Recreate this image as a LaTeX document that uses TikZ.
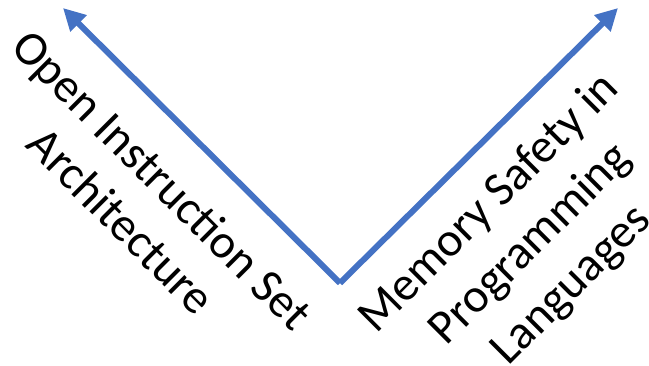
\documentclass[tikz,border=0pt]{standalone}
\usepackage{fontspec}
\setmainfont{Carlito}
\usetikzlibrary{arrows.meta}
\definecolor{axisblue}{HTML}{4472C4}
\tikzset{
  axis/.style={draw=axisblue, line width=6pt, -{Triangle[length=22pt,width=22pt]}},
  lbl/.style={font=\fontsize{48}{58}\selectfont, align=center, inner sep=0pt}
}
\begin{document}
\begin{tikzpicture}[x=1pt,y=-1pt]
\useasboundingbox (0,0) rectangle (649,365);
\coordinate (v) at (340,283);
\coordinate (l) at (63,8);
\coordinate (r) at (618,8);
\draw[axis] (v) -- (l);
\draw[axis] (v) -- (r);
\node[lbl, rotate=-45] (left) at (142,200) {Open Instruction Set\\Architecture};
\node[lbl, rotate=45] (right) at (531,245) {Memory Safety in\\Programming\\Languages};
\end{tikzpicture}
\end{document}
